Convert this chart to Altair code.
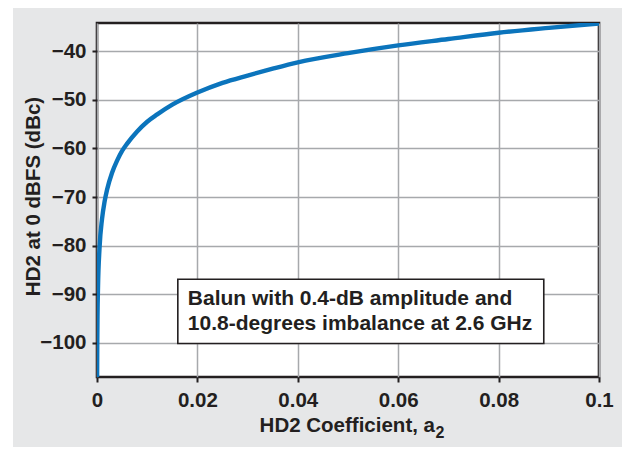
import altair as alt
import pandas as pd

# HD2 coefficient a2 vs HD2 at 0 dBFS (dBc)
a2 = [0.00002, 0.00005, 0.0001, 0.0002, 0.0005, 0.001, 0.0015, 0.002, 0.003,
      0.004, 0.005, 0.006, 0.008, 0.01, 0.012, 0.015, 0.02, 0.025, 0.03,
      0.035, 0.04, 0.05, 0.06, 0.07, 0.08, 0.09, 0.1]
hd2 = [-107.0, -100.5, -94.5, -88.5, -80.5, -74.5, -71.0, -68.5, -65.0,
       -62.5, -60.5, -59.0, -56.5, -54.5, -53.0, -51.0, -48.5, -46.5, -45.0,
       -43.6, -42.3, -40.4, -38.8, -37.5, -36.2, -35.2, -34.3]

x_ticks = [0, 0.02, 0.04, 0.06, 0.08, 0.1]
y_ticks = [-100, -90, -80, -70, -60, -50, -40]
note_lines = ["Balun with 0.4-dB amplitude and", "10.8-degrees imbalance at 2.6 GHz"]
x_title_main = "HD2 Coefficient, a"
x_title_sub = "2"

df = pd.DataFrame({"a2": a2, "hd2": hd2})
one = pd.DataFrame({"k": [0]})

FONT = "Liberation Sans, Arial, Helvetica, DejaVu Sans, sans-serif"
INK = "#231f20"
W, H = 502, 354

x_scale = alt.Scale(domain=[0, 0.1], nice=False, zero=False)
y_scale = alt.Scale(domain=[-107, -34.2], nice=False, zero=False)

x_axis = alt.Axis(values=x_ticks, format="~g", title=None,
                  labelPadding=8, labelFlush=False)
y_axis = alt.Axis(values=y_ticks, format="d", title="HD2 at 0 dBFS (dBc)",
                  labelPadding=6, labelFlush=False, titleX=-64, titleY=173,
                  titleAngle=270, titleBaseline="middle", titleAlign="center")

curve = alt.Chart(df).mark_line(color="#0b74bc", strokeWidth=4.4,
                                interpolate="monotone", clip=True).encode(
    x=alt.X("a2:Q", scale=x_scale, axis=x_axis),
    y=alt.Y("hd2:Q", scale=y_scale, axis=y_axis),
)

ann = alt.Chart(one)

box = ann.mark_rect(fill="white", stroke=INK, strokeWidth=1.6).encode(
    x=alt.datum(0.0161), x2=alt.datum(0.0890),
    y=alt.datum(-86.9), y2=alt.datum(-100.1),
)

note = ann.mark_text(align="left", baseline="middle", font=FONT,
                     fontWeight="bold", fontSize=21, lineHeight=25,
                     color=INK).encode(
    x=alt.datum(0.0181), y=alt.datum(-91.0), text=alt.value(note_lines),
)

# x-axis title with a true subscript
xt_main = ann.mark_text(align="right", baseline="alphabetic", font=FONT,
                        fontWeight="bold", fontSize=20.5, color=INK).encode(
    x=alt.value(338), y=alt.value(409), text=alt.value(x_title_main),
)
xt_sub = ann.mark_text(align="left", baseline="alphabetic", font=FONT,
                       fontWeight="bold", fontSize=16, color=INK).encode(
    x=alt.value(338.5), y=alt.value(415), text=alt.value(x_title_sub),
)

# white margin strip on the far left of the gray panel
strip = ann.mark_rect(fill="white").encode(
    x=alt.value(-89), x2=alt.value(-84), y=alt.value(-15), y2=alt.value(439),
)

chart = alt.layer(strip, curve, box, note, xt_main, xt_sub).properties(
    width=W, height=H,
    autosize=alt.AutoSizeParams(type="none"),
    padding={"left": 89, "top": 15, "right": 23, "bottom": 70},
    background="#e6e7e8",
).configure_view(
    fill="white", stroke=INK, strokeWidth=2.6,
).configure_axis(
    labelFont=FONT, titleFont=FONT, labelFontWeight="bold",
    titleFontWeight="bold", labelFontSize=20.5, titleFontSize=20.5,
    labelColor=INK, titleColor=INK, tickColor=INK, tickWidth=2, tickSize=5,
    domain=False, gridColor="#a7a9ac", gridWidth=1.5,
)

chart.save("out.html", embed_options={"renderer": "svg", "actions": False})
